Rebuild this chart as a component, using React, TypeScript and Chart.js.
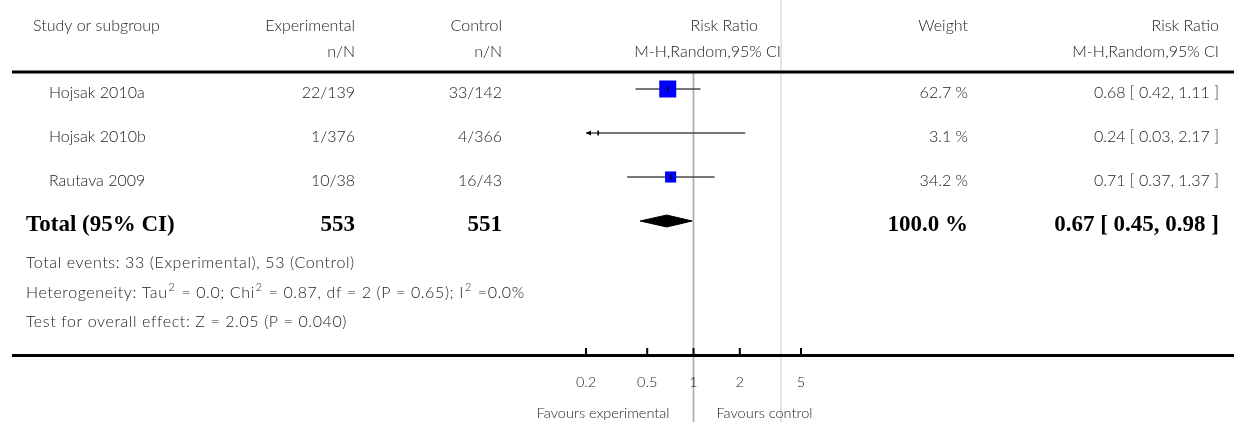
import React, { useEffect, useRef } from 'react';
import { Chart, registerables } from 'chart.js';

Chart.register(...registerables);

// ---- data ----
const studies = ['Hojsak 2010a', 'Hojsak 2010b', 'Rautava 2009'];
const expEvents = ['22/139', '1/376', '10/38'];
const ctrlEvents = ['33/142', '4/366', '16/43'];
const riskRatio = [0.68, 0.24, 0.71];
const ciLow = [0.42, 0.03, 0.37];
const ciHigh = [1.11, 2.17, 1.37];
const weights = [62.7, 3.1, 34.2];
const totalLabel = 'Total (95% CI)';
const totalExp = '553';
const totalCtrl = '551';
const totalWeight = 100.0;
const totalRR = [0.67];
const totalLow = [0.45];
const totalHigh = [0.98];
const tickValues = [0.2, 0.5, 1, 2, 5];
const tickLabels = ['0.2', '0.5', '1', '2', '5'];
// footnote segments: [text, isSuperscript]
const footnotes: [string, boolean][][] = [
  [['Total events: 33 (Experimental), 53 (Control)', false]],
  [
    ['Heterogeneity: Tau', false],
    ['2', true],
    [' = 0.0; Chi', false],
    ['2', true],
    [' = 0.87, df = 2 (P = 0.65); I', false],
    ['2', true],
    [' =0.0%', false],
  ],
  [['Test for overall effect: Z = 2.05 (P = 0.040)', false]],
];

const SANS = 'Lato, "Open Sans", sans-serif';
const SERIF = '"Liberation Serif", "DejaVu Serif", serif';
const TXT = '#222222';

const fmt = (v: number) => v.toFixed(2);
const rrText = (r: number, l: number, h: number) => `${fmt(r)} [ ${fmt(l)}, ${fmt(h)} ]`;

const studyRows = studies.map((_, i) => i + 1);
const totalRow = studies.length + 1;
const diamondHalf = 0.136;

const forestPlugin = {
  id: 'forest',
  beforeDatasetsDraw(chart: any) {
    const { ctx, chartArea } = chart;
    const xs = chart.scales.x;
    const H = chart.height;
    ctx.save();
    // light divider
    ctx.strokeStyle = '#dcdcdc';
    ctx.lineWidth = 1.5;
    ctx.beginPath();
    ctx.moveTo(781, 0);
    ctx.lineTo(781, H);
    ctx.stroke();
    // null line
    const p1 = xs.getPixelForValue(1);
    ctx.strokeStyle = '#b0b0b0';
    ctx.lineWidth = 1.8;
    ctx.beginPath();
    ctx.moveTo(p1, chartArea.top);
    ctx.lineTo(p1, H);
    ctx.stroke();
    ctx.restore();
  },
  afterDatasetsDraw(chart: any) {
    const { ctx, chartArea } = chart;
    const xs = chart.scales.x;
    const ys = chart.scales.y;
    const W = chart.width;
    ctx.save();
    // thick rules
    ctx.strokeStyle = '#000';
    ctx.lineWidth = 3;
    ctx.beginPath();
    ctx.moveTo(12, chartArea.top);
    ctx.lineTo(W, chartArea.top);
    ctx.moveTo(12, chartArea.bottom + 0.5);
    ctx.lineTo(W, chartArea.bottom + 0.5);
    ctx.stroke();

    // arrows for off-scale CIs
    ctx.fillStyle = '#000';
    studies.forEach((_, i) => {
      const py = ys.getPixelForValue(studyRows[i]);
      if (ciLow[i] < xs.min) {
        const px = chartArea.left;
        ctx.beginPath();
        ctx.moveTo(px, py);
        ctx.lineTo(px + 5, py - 2.5);
        ctx.lineTo(px + 5, py + 2.5);
        ctx.closePath();
        ctx.fill();
      }
      if (ciHigh[i] > xs.max) {
        const px = chartArea.right;
        ctx.beginPath();
        ctx.moveTo(px, py);
        ctx.lineTo(px - 5, py - 2.5);
        ctx.lineTo(px - 5, py + 2.5);
        ctx.closePath();
        ctx.fill();
      }
    });

    // axis ticks
    ctx.strokeStyle = '#000';
    ctx.lineWidth = 2;
    tickValues.forEach((v) => {
      const px = xs.getPixelForValue(v);
      ctx.beginPath();
      ctx.moveTo(px, chartArea.bottom - 7);
      ctx.lineTo(px, chartArea.bottom);
      ctx.stroke();
    });
    ctx.fillStyle = TXT;
    ctx.textBaseline = 'middle';
    ctx.font = `300 14.5px ${SANS}`;
    ctx.textAlign = 'center';
    tickValues.forEach((v, i) => {
      ctx.fillText(tickLabels[i], xs.getPixelForValue(v), chartArea.bottom + 27);
    });
    const p1 = xs.getPixelForValue(1);
    ctx.textAlign = 'right';
    ctx.fillText('Favours experimental', p1 - 24, chartArea.bottom + 58);
    ctx.textAlign = 'left';
    ctx.fillText('Favours control', p1 + 23, chartArea.bottom + 58);

    // headers
    const h1 = chartArea.top - 46;
    const h2 = chartArea.top - 20;
    ctx.font = `300 16px ${SANS}`;
    ctx.textAlign = 'left';
    ctx.fillText('Study or subgroup', 33, h1);
    ctx.textAlign = 'right';
    ctx.fillText('Experimental', 355, h1);
    ctx.fillText('n/N', 355, h2);
    ctx.fillText('Control', 502, h1);
    ctx.fillText('n/N', 502, h2);
    ctx.fillText('Risk Ratio', 758, h1);
    ctx.fillText('M-H,Random,95% CI', 781, h2);
    ctx.fillText('Weight', 968, h1);
    ctx.fillText('Risk Ratio', 1219, h1);
    ctx.fillText('M-H,Random,95% CI', 1219, h2);

    // study rows
    studies.forEach((s, i) => {
      const py = ys.getPixelForValue(studyRows[i]) + 4;
      ctx.textAlign = 'left';
      ctx.fillText(s, 49, py);
      ctx.textAlign = 'right';
      ctx.fillText(expEvents[i], 355, py);
      ctx.fillText(ctrlEvents[i], 502, py);
      ctx.fillText(`${weights[i].toFixed(1)} %`, 968, py);
      ctx.fillText(rrText(riskRatio[i], ciLow[i], ciHigh[i]), 1219, py);
    });

    // total row
    const ty = ys.getPixelForValue(totalRow) + 4;
    ctx.fillStyle = '#000';
    ctx.font = `bold 23px ${SERIF}`;
    ctx.textAlign = 'left';
    ctx.fillText(totalLabel, 26, ty);
    ctx.textAlign = 'right';
    ctx.fillText(totalExp, 355, ty);
    ctx.fillText(totalCtrl, 502, ty);
    ctx.fillText(`${totalWeight.toFixed(1)} %`, 968, ty);
    ctx.fillText(rrText(totalRR[0], totalLow[0], totalHigh[0]), 1219, ty);

    // footnotes
    ctx.fillStyle = TXT;
    ctx.textAlign = 'left';
    footnotes.forEach((segs, i) => {
      let x = 26;
      const y = 263 + i * 29.5;
      segs.forEach(([t, sup]) => {
        if (sup) {
          ctx.font = `300 11px ${SANS}`;
          (ctx as any).letterSpacing = '0px';
          ctx.fillText(t, x + 1, y - 5);
          x += ctx.measureText(t).width + 2.5;
        } else {
          ctx.font = `300 16px ${SANS}`;
          (ctx as any).letterSpacing = '0.6px';
          ctx.fillText(t, x, y);
          x += ctx.measureText(t).width;
        }
      });
    });
    (ctx as any).letterSpacing = '0px';
    ctx.restore();
  },
};

export default function App() {
  const ref = useRef<HTMLCanvasElement>(null);
  useEffect(() => {
    document.body.style.margin = '0';
    const canvas = ref.current!;
    const ciDatasets = studies.map((_, i) => ({
      data: [
        { x: ciLow[i], y: studyRows[i] },
        { x: ciHigh[i], y: studyRows[i] },
      ],
      showLine: true,
      borderColor: '#4a4a4a',
      borderWidth: 1.4,
      pointRadius: 0,
      order: 3,
    }));
    const boxes = {
      data: studies.map((_, i) => ({ x: riskRatio[i], y: studyRows[i] })),
      showLine: false,
      pointStyle: 'rect',
      pointRadius: (c: any) => (17 * Math.pow(weights[c.dataIndex] / 62.7, 0.7)) / (2 * Math.SQRT1_2),
      backgroundColor: '#0000ff',
      borderWidth: 0,
      pointBorderWidth: 0,
      order: 2,
    };
    const marks = {
      data: studies.map((_, i) => ({ x: riskRatio[i], y: studyRows[i] })),
      showLine: false,
      pointStyle: 'line',
      rotation: 90,
      pointRadius: 2.5,
      borderColor: '#000',
      pointBorderColor: '#000',
      pointBorderWidth: 1.5,
      order: 1,
    };
    const diamond = {
      data: [
        { x: totalLow[0], y: totalRow },
        { x: totalRR[0], y: totalRow - diamondHalf },
        { x: totalHigh[0], y: totalRow },
        { x: totalRR[0], y: totalRow + diamondHalf },
        { x: totalLow[0], y: totalRow },
      ],
      showLine: true,
      fill: 'shape',
      backgroundColor: '#000',
      borderColor: '#000',
      borderWidth: 1,
      pointRadius: 0,
      tension: 0,
      order: 1,
    };
    const chart = new Chart(canvas, {
      type: 'scatter',
      data: { datasets: [marks, boxes, ...ciDatasets, diamond] as any },
      options: {
        animation: false,
        responsive: false,
        devicePixelRatio: 1,
        layout: { padding: { left: 586, right: 433, top: 72, bottom: 67 } },
        plugins: { legend: { display: false }, tooltip: { enabled: false } },
        scales: {
          x: { type: 'logarithmic', min: 0.2, max: 5, display: false },
          y: { type: 'linear', min: 0.6136, max: 7.0455, reverse: true, display: false },
        },
      } as any,
      plugins: [forestPlugin],
    });
    return () => chart.destroy();
  }, []);
  return <canvas ref={ref} width={1234} height={422} style={{ display: 'block' }} />;
}
